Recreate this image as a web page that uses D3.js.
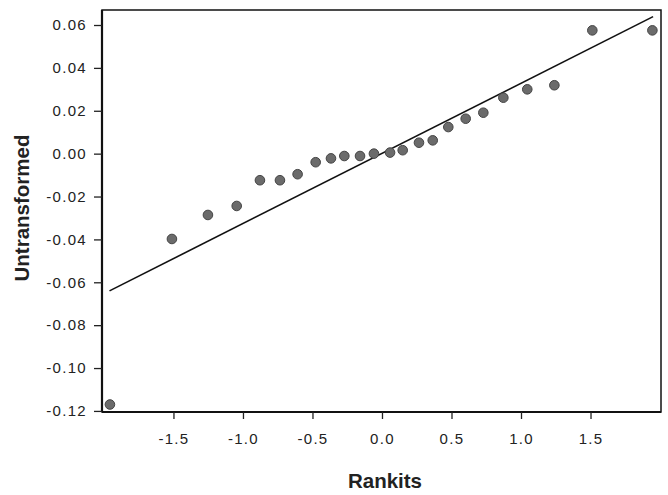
<!DOCTYPE html>
<html lang="en">
<head>
    <meta charset="UTF-8">
    <title>Rankits plot</title>
    <script src="https://d3js.org/d3.v7.min.js"></script>
    <style>
        body { margin: 0; background: white; font-family: "Liberation Sans", Arial, sans-serif; }
        svg { display: block; }
    </style>
</head>
<body>
    <svg width="668" height="495"></svg>
    <script>
        // rankits (x) and untransformed values (y)
        const rankits = [-1.957, -1.511, -1.252, -1.045, -0.878, -0.734, -0.607, -0.477,
                         -0.367, -0.271, -0.158, -0.058, 0.058, 0.149, 0.266, 0.365,
                         0.477, 0.602, 0.729, 0.873, 1.045, 1.240, 1.513, 1.945];
        const values = [-0.117, -0.0398, -0.0286, -0.0244, -0.0124, -0.0124, -0.0096, -0.0040,
                        -0.0022, -0.0011, -0.0011, 0.0000, 0.0005, 0.0016, 0.0051, 0.0062,
                        0.0124, 0.0163, 0.0191, 0.0261, 0.0300, 0.0319, 0.0575, 0.0575];
        // reference line end points
        const lineX = [-1.96, 1.95];
        const lineY = [-0.0640, 0.0639];

        const xTicks = [-1.5, -1.0, -0.5, 0.0, 0.5, 1.0, 1.5];
        const yTicks = [0.06, 0.04, 0.02, 0.00, -0.02, -0.04, -0.06, -0.08, -0.10, -0.12];

        const svg = d3.select("svg");
        const plotL = 102, plotR = 661, plotT = 10, plotB = 412;

        const x = d3.scaleLinear().domain([-2.014, 2.007]).range([plotL, plotR]);
        const y = d3.scaleLinear().domain([-0.1205, 0.0670]).range([plotB, plotT]);

        // plain hyphen instead of d3's unicode minus
        const fmt = p => d => d3.format(p)(d).replace("\u2212", "-");

        // frame
        svg.append("rect")
            .attr("x", plotL).attr("y", plotT)
            .attr("width", plotR - plotL).attr("height", plotB - plotT)
            .attr("fill", "none").attr("stroke", "#111").attr("stroke-width", 1.5);

        const xAxis = svg.append("g")
            .attr("transform", `translate(0,${plotB})`)
            .call(d3.axisBottom(x).tickValues(xTicks).tickSize(7).tickPadding(14)
                .tickFormat(fmt(".1f")));
        const yAxis = svg.append("g")
            .attr("transform", `translate(${plotL},0)`)
            .call(d3.axisLeft(y).tickValues(yTicks).tickSize(8).tickPadding(7)
                .tickFormat(fmt(".2f")));

        [xAxis, yAxis].forEach(g => {
            g.select(".domain").attr("stroke", "#111").attr("stroke-width", 2.2);
            g.selectAll(".tick line").attr("stroke", "#222").attr("stroke-width", 1.3);
            g.selectAll(".tick text")
                .attr("fill", "#222")
                .style("font-family", "'Liberation Sans', Arial, sans-serif")
                .style("font-size", "15px")
                .style("letter-spacing", "1.3px");
        });
        yAxis.select(".domain").attr("d", `M0,${plotT}V${plotB}`);
        xAxis.select(".domain").attr("d", `M${plotL},0H${plotR}`);

        // fitted line
        svg.append("line")
            .attr("x1", x(lineX[0])).attr("y1", y(lineY[0]))
            .attr("x2", x(lineX[1])).attr("y2", y(lineY[1]))
            .attr("stroke", "#111").attr("stroke-width", 1.6);

        // points
        svg.append("g")
            .selectAll("circle")
            .data(rankits.map((r, i) => [r, values[i]]))
            .join("circle")
            .attr("cx", d => x(d[0]))
            .attr("cy", d => y(d[1]))
            .attr("r", 4.8)
            .attr("fill", "#6b6b6b")
            .attr("stroke", "#444")
            .attr("stroke-width", 1);

        // axis titles
        svg.append("text")
            .attr("x", 385).attr("y", 488)
            .attr("text-anchor", "middle")
            .style("font-size", "20.5px").style("font-weight", "bold")
            .attr("fill", "#222")
            .text("Rankits");

        svg.append("text")
            .attr("transform", "translate(29,208) rotate(-90)")
            .attr("text-anchor", "middle")
            .style("font-size", "20.5px").style("font-weight", "bold")
            .attr("fill", "#222")
            .text("Untransformed");
    </script>
</body>
</html>
